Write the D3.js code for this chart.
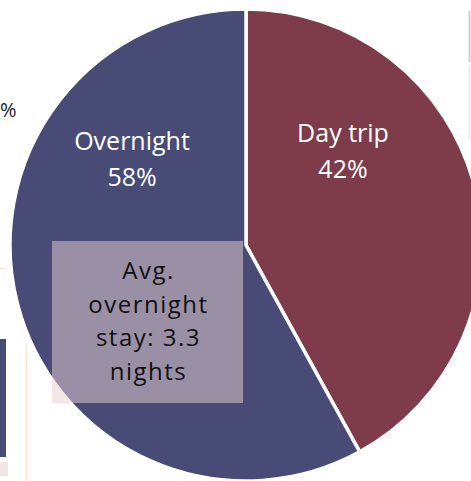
<!DOCTYPE html>
<meta charset="utf-8">
<style>
  body { margin: 0; background: #fff; }
  svg { display: block; }
  text { font-family: "Open Sans", sans-serif; }
</style>
<body>
<script src="https://d3js.org/d3.v7.min.js"></script>
<script>
var categories = ["Day trip", "Overnight"];
var shares = [42, 58];
var colors = ["#7e3c4b", "#474b76"];
var boxLines = ["Avg.", "overnight", "stay: 3.3", "nights"];

var width = 471, height = 481;
var cx = 246, cy = 245, radius = 236;

var svg = d3.select("body").append("svg")
    .attr("width", width)
    .attr("height", height);

// fragments of neighbouring slide content
svg.append("text").attr("x", 0).attr("y", 117)
    .style("font-size", "20px").attr("fill", "#222").text("%");
svg.append("rect").attr("x", 0).attr("y", 339).attr("width", 6).attr("height", 118).attr("fill", "#474b76");
svg.append("rect").attr("x", 0).attr("y", 462).attr("width", 8).attr("height", 14).attr("fill", "#f0e6e8");
svg.append("line").attr("x1", 0).attr("x2", 6).attr("y1", 268.5).attr("y2", 268.5).attr("stroke", "#fde3d5");
svg.append("line").attr("x1", 26.5).attr("x2", 26.5).attr("y1", 345).attr("y2", 481).attr("stroke", "#fde3d5").attr("stroke-width", 1.5);
svg.append("line").attr("x1", 469.5).attr("x2", 469.5).attr("y1", 11).attr("y2", 62).attr("stroke", "#cfcfcf").attr("stroke-width", 2);
svg.append("line").attr("x1", 469.5).attr("x2", 469.5).attr("y1", 65).attr("y2", 140).attr("stroke", "#ececec").attr("stroke-width", 2);

var data = categories.map(function(c, i) { return {name: c, value: shares[i], color: colors[i]}; });

var pie = d3.pie().sort(null).value(function(d) { return d.value; });
var arc = d3.arc().innerRadius(0).outerRadius(radius);

var g = svg.append("g").attr("transform", "translate(" + cx + "," + cy + ")");

g.selectAll("path")
  .data(pie(data))
  .enter().append("path")
    .attr("d", arc)
    .attr("fill", function(d) { return d.data.color; })
    .attr("stroke", "#fff")
    .attr("stroke-width", 3.5)
    .attr("stroke-linejoin", "miter");

// slice labels
var labelPos = [[97, -103], [-114, -95]];
g.selectAll(".lbl")
  .data(pie(data))
  .enter().append("text")
    .attr("class", "lbl")
    .attr("text-anchor", "middle")
    .attr("fill", "#fff")
    .style("font-size", "25px")
    .each(function(d, i) {
      var t = d3.select(this);
      t.append("tspan").attr("x", labelPos[i][0]).attr("y", labelPos[i][1]).text(d.data.name);
      t.append("tspan").attr("x", labelPos[i][0]).attr("y", labelPos[i][1] + 36).text(d.data.value + "%");
    });

// overlay box
var box = {x: 52, y: 241, w: 191, h: 162};
svg.append("rect")
    .attr("x", box.x).attr("y", box.y)
    .attr("width", box.w).attr("height", box.h)
    .attr("fill", "rgb(230,207,211)")
    .attr("fill-opacity", 0.52);

svg.append("text")
    .attr("text-anchor", "middle")
    .attr("fill", "#111")
    .style("font-size", "24px")
    .style("letter-spacing", "1.5px")
  .selectAll("tspan")
  .data(boxLines)
  .enter().append("tspan")
    .attr("x", box.x + box.w / 2 + 1)
    .attr("y", function(d, i) { return 279 + i * 33.7; })
    .text(function(d) { return d; });
</script>
</body>
